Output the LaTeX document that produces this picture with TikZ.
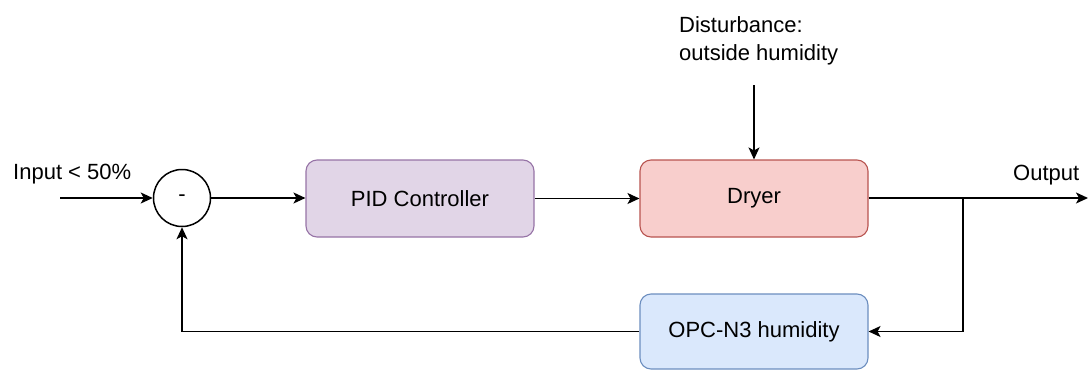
\documentclass[tikz,border=0pt]{standalone}
\usepackage{fontspec}
\setmainfont{Liberation Sans}
\usetikzlibrary{arrows.meta}
\definecolor{pidfill}{HTML}{E1D5E7}\definecolor{piddraw}{HTML}{9673A6}
\definecolor{dryfill}{HTML}{F8CECC}\definecolor{drydraw}{HTML}{B85450}
\definecolor{opcfill}{HTML}{DAE8FC}\definecolor{opcdraw}{HTML}{6C8EBF}
\tikzset{
  blk/.style={rounded corners=11pt, line width=1.1pt, minimum width=228pt, minimum height=77pt, inner sep=0pt, font=\fontsize{22}{27.5}\selectfont},
  lbl/.style={font=\fontsize{22}{27.5}\selectfont, inner sep=0pt},
  conn/.style={line width=1.5pt, -{Stealth[length=12pt,width=11pt,inset=3pt]}},
}
\begin{document}
\begin{tikzpicture}[x=1pt,y=-1pt]
\useasboundingbox (0,0) rectangle (1088,370);
\node[lbl, anchor=base west] (in) at (13,179) {Input < 50\%};
\coordinate (instart) at (60,198);
\node[draw, circle, line width=1.5pt, minimum size=57pt, inner sep=0pt, lbl] (sum) at (182,198) {-};
\node[blk, draw=piddraw, fill=pidfill] (pid) at (420,198.5) {PID Controller};
\node[blk, draw=drydraw, fill=dryfill] (dry) at (754,198.5) {Dryer};
\node[blk, draw=opcdraw, fill=opcfill, minimum height=75pt] (opc) at (754,331.5) {OPC-N3 humidity};
\node[lbl, anchor=base west, align=left] (dist) at (679,60) {Disturbance:\\outside humidity};
\coordinate (dstart) at (754,85);
\node[lbl, anchor=base west] (out) at (1013,180) {Output};
\coordinate (oend) at (1088,198);
\coordinate (branch) at (963,198);
\draw[conn] (instart) -- (sum.west);
\draw[conn] (sum.east) -- (sum.east -| pid.west);
\draw[conn] (pid.east) -- (pid.east -| dry.west);
\draw[conn] (dstart) -- (dry.north);
\draw[conn] (dry.east |- oend) -- (oend);
\draw[conn] (branch) |- (opc.east);
\draw[conn] (opc.west) -| (sum.south);
\end{tikzpicture}
\end{document}
